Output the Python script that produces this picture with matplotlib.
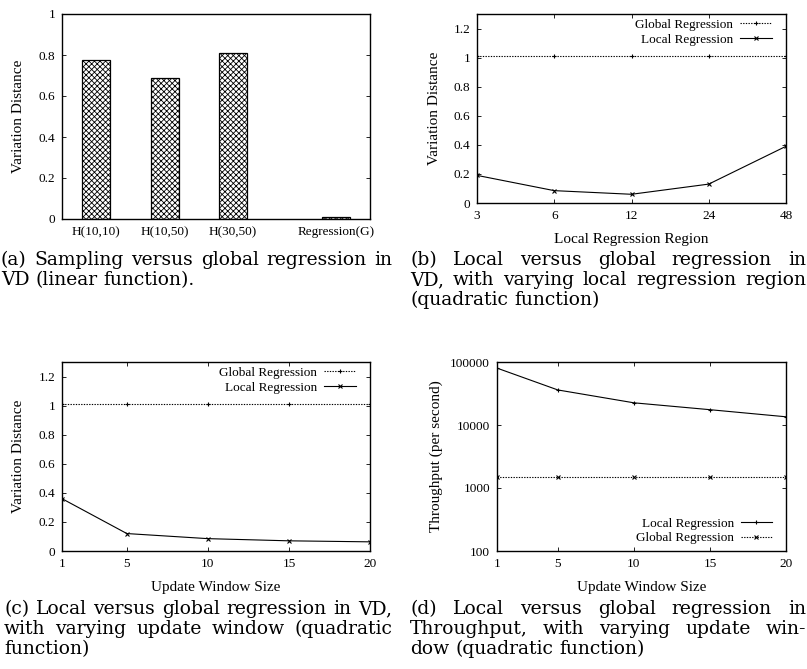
import numpy as np
import matplotlib
matplotlib.use("Agg")
import matplotlib.pyplot as plt
from matplotlib.ticker import FixedLocator, NullLocator

plt.rcParams['font.family'] = ['Liberation Serif', 'DejaVu Serif']
plt.rcParams['hatch.linewidth'] = 0.6

# (a) sampling vs global regression
bar_names = ["H(10,10)", "H(10,50)", "H(30,50)", "Regression(G)"]
bar_vd = [0.775, 0.69, 0.81, 0.01]

# (b) varying local regression region
region = [3, 6, 12, 24, 48]
region_global = [1.01, 1.01, 1.01, 1.01, 1.01]
region_local = [0.19, 0.085, 0.06, 0.13, 0.39]

# (c) varying update window, VD
window = [1, 5, 10, 15, 20]
window_global = [1.01, 1.01, 1.01, 1.01, 1.01]
window_local = [0.36, 0.12, 0.085, 0.07, 0.063]

# (d) varying update window, throughput
tp_local = [80000, 36000, 22500, 17500, 13500]
tp_global = [1500, 1500, 1500, 1500, 1500]

W, H = 807, 669
fig = plt.figure(figsize=(W / 100, H / 100), dpi=100)

def px_axes(l, r, t, b):
    return fig.add_axes([l / W, (H - b) / H, (r - l) / W, (b - t) / H])

fs = 9.5      # tick labels and legend
lab_fs = 11  # axis labels

def gp_style(ax):
    ax.tick_params(direction='in', top=True, right=True, labelsize=fs,
                   length=3, width=0.6, pad=5)
    ax.tick_params(which='minor', direction='in', top=True, right=True, length=1.5)
    for s in ax.spines.values():
        s.set_linewidth(1.0)

def put_ylabel(ax, text, xpx):
    ax.set_ylabel(text, fontsize=lab_fs)
    x_ax = (xpx - ax.get_position().x0 * W) / (ax.get_position().width * W)
    ax.yaxis.set_label_coords(x_ax, 0.5)
    ax.yaxis.label.set_va('center')

def put_xlabel(ax, text, ypx):
    ax.set_xlabel(text, fontsize=lab_fs)
    pos = ax.get_position()
    y_ax = ((H - ypx) - pos.y0 * H) / (pos.height * H)
    ax.xaxis.set_label_coords(0.5, y_ax)
    ax.xaxis.label.set_va('center')

# ---- (a)
ax = px_axes(62, 370, 14, 219)
pos = [1, 2, 3, 4.5]
ax.bar(pos, bar_vd, width=0.41, color='white', edgecolor='black',
       hatch='xxxxxx', linewidth=0.9)
ax.set_xlim(0.5, 5)
ax.set_ylim(0, 1)
ax.set_xticks(pos)
ax.set_xticklabels(bar_names)
ax.set_yticks([0, 0.2, 0.4, 0.6, 0.8, 1])
ax.set_yticklabels(["0", "0.2", "0.4", "0.6", "0.8", "1"])
gp_style(ax)
ax.tick_params(axis='x', length=0)
put_ylabel(ax, "Variation Distance", 19)

leg_kw = dict(frameon=False, markerfirst=False, fontsize=fs,
              handlelength=2.4, handletextpad=0.5, labelspacing=0.2,
              borderaxespad=0.1)

# ---- (b)
ax = px_axes(477, 786, 14, 203)
xi = np.arange(len(region))
ax.plot(xi, region_global, ls=(0, (1.2, 1.2)), lw=0.8, color='black',
        marker='+', ms=3, mew=0.8, label="Global Regression")
ax.plot(xi, region_local, ls='-', lw=0.8, color='black',
        marker='x', ms=2.5, mew=0.8, label="Local Regression")
ax.set_xlim(0, 4)
ax.set_ylim(0, 1.3)
ax.set_xticks(xi)
ax.set_xticklabels([str(v) for v in region])
ax.set_yticks([0, 0.2, 0.4, 0.6, 0.8, 1, 1.2])
ax.set_yticklabels(["0", "0.2", "0.4", "0.6", "0.8", "1", "1.2"])
gp_style(ax)
put_ylabel(ax, "Variation Distance", 435)
put_xlabel(ax, "Local Regression Region", 239)
ax.legend(loc='upper right', bbox_to_anchor=(0.975, 1.01), **leg_kw)

# ---- (c)
ax = px_axes(62, 370, 362, 551)
ax.plot(window, window_global, ls=(0, (1.2, 1.2)), lw=0.8, color='black',
        marker='+', ms=3, mew=0.8, label="Global Regression")
ax.plot(window, window_local, ls='-', lw=0.8, color='black',
        marker='x', ms=2.5, mew=0.8, label="Local Regression")
ax.set_xlim(1, 20)
ax.set_ylim(0, 1.3)
ax.set_xticks(window)
ax.set_yticks([0, 0.2, 0.4, 0.6, 0.8, 1, 1.2])
ax.set_yticklabels(["0", "0.2", "0.4", "0.6", "0.8", "1", "1.2"])
gp_style(ax)
put_ylabel(ax, "Variation Distance", 19)
put_xlabel(ax, "Update Window Size", 587)
ax.legend(loc='upper right', bbox_to_anchor=(0.975, 1.01), **leg_kw)

# ---- (d)
ax = px_axes(497, 786, 362, 551)
ax.plot(window, tp_local, ls='-', lw=0.8, color='black',
        marker='+', ms=3, mew=0.8, label="Local Regression")
ax.plot(window, tp_global, ls=(0, (1.2, 1.2)), lw=0.8, color='black',
        marker='x', ms=2.5, mew=0.8, label="Global Regression")
ax.set_yscale('log')
ax.set_xlim(1, 20)
ax.set_ylim(100, 100000)
ax.set_xticks(window)
ax.yaxis.set_major_locator(FixedLocator([100, 1000, 10000, 100000]))
ax.set_yticklabels(["100", "1000", "10000", "100000"])
ax.yaxis.set_minor_locator(NullLocator())
gp_style(ax)
put_ylabel(ax, "Throughput (per second)", 436)
put_xlabel(ax, "Update Window Size", 587)
ax.legend(loc='lower right', bbox_to_anchor=(0.975, 0.0), **leg_kw)

# ---- captions (justified like the paper)
cap_fs = 13.5
cap_font = ['DejaVu Serif']
renderer = fig.canvas.get_renderer()

def word_w(w):
    t = fig.text(0, 0, w, fontsize=cap_fs, family=cap_font)
    bb = t.get_window_extent(renderer)
    t.remove()
    return bb.width

space_w = word_w("a b") - word_w("ab")

def caption(lines, x0, x1, y_top):
    for i, line in enumerate(lines):
        y = 1 - (y_top + i * 20) / H
        words = line.split()
        widths = [word_w(w) for w in words]
        last = i == len(lines) - 1
        if last or len(words) == 1:
            gap = space_w
        else:
            gap = (x1 - x0 - sum(widths)) / (len(words) - 1)
        x = x0
        for w, wd in zip(words, widths):
            fig.text(x / W, y, w, fontsize=cap_fs, family=cap_font,
                     va='center', ha='left')
            x += wd + gap

caption(["(a) Sampling versus global regression in",
         "VD (linear function)."], 1, 392, 260)
caption(["(b) Local versus global regression in",
         "VD, with varying local regression region",
         "(quadratic function)"], 410, 806, 260)
caption(["(c) Local versus global regression in VD,",
         "with varying update window (quadratic",
         "function)"], 4, 392, 609)
caption(["(d) Local versus global regression in",
         "Throughput, with varying update win-",
         "dow (quadratic function)"], 410, 806, 609)

fig.savefig("out.png", dpi=100)
